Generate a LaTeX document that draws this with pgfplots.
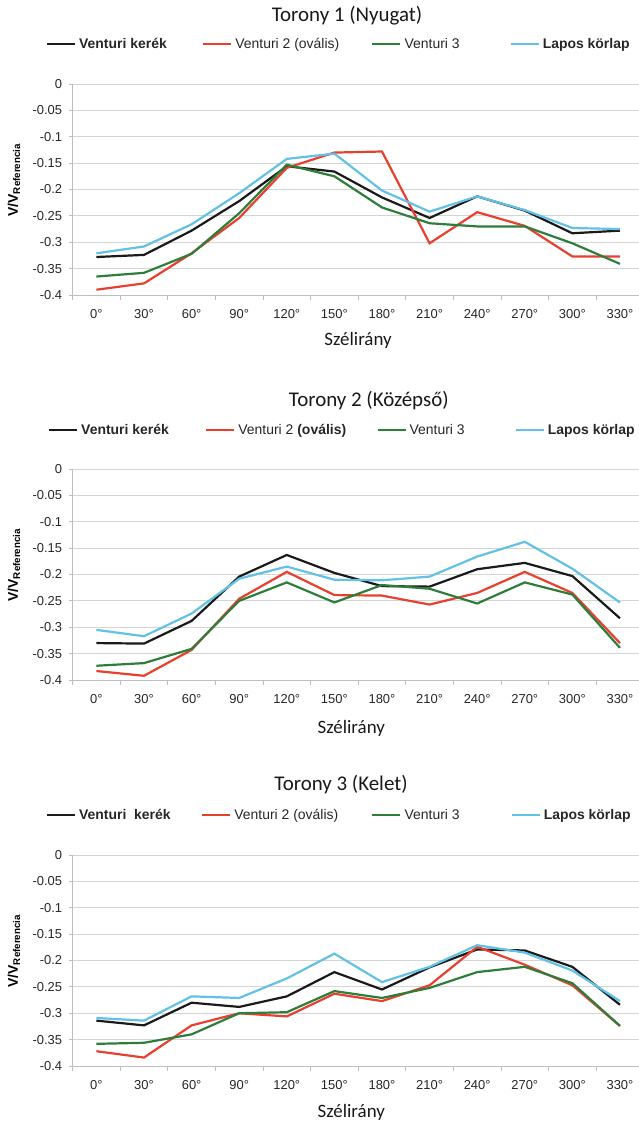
\documentclass[border=0pt]{standalone}
\usepackage{fontspec}
\setmainfont{Liberation Sans}
\newfontfamily\calibri{Carlito}
\usepackage{pgfplots}
\usepackage{pgfplotstable}
\pgfplotsset{compat=1.18}

\definecolor{cBlack}{HTML}{1A1A1A}
\definecolor{cRed}{HTML}{E8402F}
\definecolor{cGreen}{HTML}{2F7D3B}
\definecolor{cCyan}{HTML}{62C1E5}
\definecolor{cGrid}{HTML}{D4D4D4}
\definecolor{cAxis}{HTML}{BDBDBD}

% wind direction index (0 = 0 deg, 1 = 30 deg, ...), V/V_ref per configuration
\pgfplotstableread{
x vk v2 v3 lk
0 -0.328 -0.390 -0.365 -0.321
1 -0.324 -0.378 -0.358 -0.308
2 -0.278 -0.321 -0.322 -0.266
3 -0.222 -0.254 -0.245 -0.207
4 -0.156 -0.159 -0.153 -0.142
5 -0.166 -0.130 -0.175 -0.132
6 -0.215 -0.128 -0.234 -0.202
7 -0.254 -0.302 -0.264 -0.242
8 -0.213 -0.243 -0.270 -0.213
9 -0.240 -0.269 -0.270 -0.239
10 -0.283 -0.327 -0.302 -0.273
11 -0.278 -0.327 -0.341 -0.275
}\tabA

\pgfplotstableread{
x vk v2 v3 lk
0 -0.330 -0.383 -0.373 -0.305
1 -0.331 -0.392 -0.368 -0.317
2 -0.288 -0.343 -0.341 -0.274
3 -0.204 -0.246 -0.250 -0.208
4 -0.163 -0.195 -0.215 -0.185
5 -0.197 -0.239 -0.253 -0.210
6 -0.222 -0.240 -0.220 -0.211
7 -0.223 -0.257 -0.227 -0.204
8 -0.190 -0.235 -0.255 -0.166
9 -0.178 -0.195 -0.215 -0.138
10 -0.203 -0.235 -0.238 -0.189
11 -0.283 -0.330 -0.339 -0.253
}\tabB

\pgfplotstableread{
x vk v2 v3 lk
0 -0.314 -0.372 -0.358 -0.309
1 -0.323 -0.384 -0.356 -0.314
2 -0.280 -0.323 -0.340 -0.268
3 -0.288 -0.300 -0.300 -0.271
4 -0.268 -0.306 -0.298 -0.234
5 -0.222 -0.263 -0.258 -0.187
6 -0.255 -0.277 -0.271 -0.241
7 -0.213 -0.247 -0.252 -0.212
8 -0.179 -0.174 -0.222 -0.171
9 -0.181 -0.208 -0.212 -0.185
10 -0.212 -0.247 -0.243 -0.219
11 -0.284 -0.324 -0.324 -0.277
}\tabC

\pgfplotsset{
  tower/.style={
    scale only axis, width=566.4bp, height=211bp,
    xmin=-0.5, xmax=11.4, ymin=-0.4, ymax=0,
    axis lines*=left,
    axis line style={cAxis, line width=0.9bp},
    xtick={0,1,2,3,4,5,6,7,8,9,10,11},
    xticklabels={0°,30°,60°,90°,120°,150°,180°,210°,240°,270°,300°,330°},
    minor xtick={-0.5,0.5,1.5,2.5,3.5,4.5,5.5,6.5,7.5,8.5,9.5,10.5},
    major x tick style={draw=none},
    minor x tick style={cAxis, line width=0.9bp},
    minor tick length=5bp,
    major tick length=4bp,
    tick align=outside,
    ytick={-0.4,-0.35,-0.3,-0.25,-0.2,-0.15,-0.1,-0.05,0},
    yticklabels={-0.4,-0.35,-0.3,-0.25,-0.2,-0.15,-0.1,-0.05,0},
    y tick style={cAxis, line width=0.9bp},
    ymajorgrids, grid style={cGrid, line width=0.9bp},
    tick label style={font=\fontsize{13}{15}\selectfont, text=black!85},
    xticklabel style={yshift=-7bp},
    yticklabel style={xshift=-3bp},
    xlabel={Szélirány},
    xlabel style={font=\calibri\fontsize{19}{23}\selectfont, text=black!90, anchor=center, yshift=0pt},
    ylabel={\textbf{V/V}\textsubscript{\textbf{Referencia}}},
    ylabel style={font=\fontsize{14}{16}\selectfont, at={(axis description cs:-0.1035,0.545)}, anchor=center},
    title style={font=\calibri\fontsize{21}{25}\selectfont, text=black!90, anchor=center, yshift=0pt},
    no markers,
    every axis plot/.append style={line width=2.2bp},
    legend columns=4,
    legend image code/.code={\draw[##1, line width=2.2bp] (0bp,0bp) -- (28bp,0bp);},
    legend style={draw=none, fill=none, inner sep=0pt, outer sep=0pt,
      anchor=west, nodes={inner sep=0pt}, cells={anchor=west},
      font=\fontsize{14}{16}\selectfont, text=black!85,
      /tikz/every odd column/.append style={column sep=3bp}},
  }
}

\begin{document}
\begin{tikzpicture}
\path[use as bounding box] (0bp,0bp) rectangle (639bp,1123bp);

% Torony 1
\begin{axis}[tower, at={(72.6bp,828bp)}, anchor=south west,
  title={Torony 1 (Nyugat)},
  title style={at={(axis description cs:0.4845,1.294)}},
  xlabel style={at={(axis description cs:0.504,-0.215)}},
  legend style={at={(axis description cs:-0.047,1.19)}}]
\addplot[cBlack] table[x=x,y=vk]{\tabA};
\addlegendentry{\makebox[123bp][l]{\textbf{Venturi kerék}}}
\addplot[cRed] table[x=x,y=v2]{\tabA};
\addlegendentry{\makebox[136bp][l]{Venturi 2 (ovális)}}
\addplot[cGreen] table[x=x,y=v3]{\tabA};
\addlegendentry{\makebox[105bp][l]{Venturi 3}}
\addplot[cCyan] table[x=x,y=lk]{\tabA};
\addlegendentry{\textbf{Lapos körlap}}
\end{axis}

% Torony 2
\begin{axis}[tower, at={(72.6bp,443bp)}, anchor=south west,
  title={Torony 2 (Középső)},
  title style={at={(axis description cs:0.523,1.298)}},
  xlabel style={at={(axis description cs:0.492,-0.229)}},
  legend style={at={(axis description cs:-0.0434,1.185)}}]
\addplot[cBlack] table[x=x,y=vk]{\tabB};
\addlegendentry{\makebox[124bp][l]{\textbf{Venturi kerék}}}
\addplot[cRed] table[x=x,y=v2]{\tabB};
\addlegendentry{\makebox[138bp][l]{Venturi 2 \textbf{(ovális)}}}
\addplot[cGreen] table[x=x,y=v3]{\tabB};
\addlegendentry{\makebox[105bp][l]{Venturi 3}}
\addplot[cCyan] table[x=x,y=lk]{\tabB};
\addlegendentry{\textbf{Lapos körlap}}
\end{axis}

% Torony 3
\begin{axis}[tower, at={(72.6bp,57bp)}, anchor=south west,
  title={Torony 3 (Kelet)},
  title style={at={(axis description cs:0.474,1.306)}},
  xlabel style={at={(axis description cs:0.492,-0.222)}},
  legend style={at={(axis description cs:-0.047,1.19)}}]
\addplot[cBlack] table[x=x,y=vk]{\tabC};
\addlegendentry{\makebox[122bp][l]{\textbf{Venturi\ \ kerék}}}
\addplot[cRed] table[x=x,y=v2]{\tabC};
\addlegendentry{\makebox[137bp][l]{Venturi 2 (ovális)}}
\addplot[cGreen] table[x=x,y=v3]{\tabC};
\addlegendentry{\makebox[106bp][l]{Venturi 3}}
\addplot[cCyan] table[x=x,y=lk]{\tabC};
\addlegendentry{\textbf{Lapos körlap}}
\end{axis}
\end{tikzpicture}
\end{document}
